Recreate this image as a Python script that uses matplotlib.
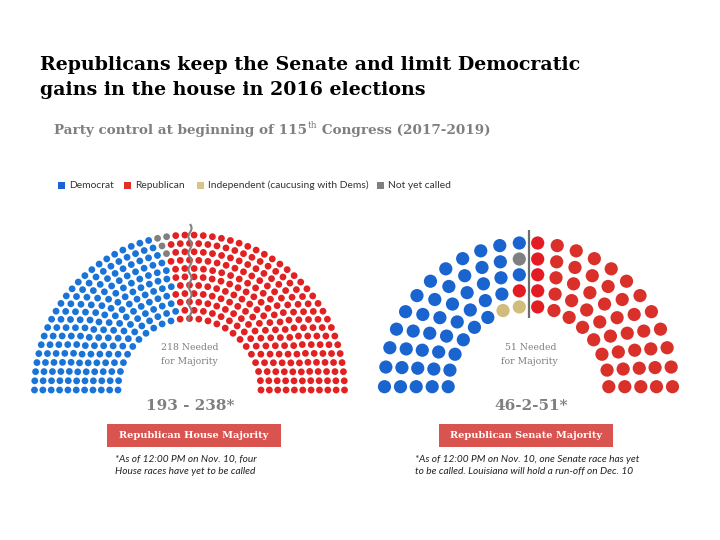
import numpy as np
import matplotlib
matplotlib.use("Agg")
import matplotlib.pyplot as plt
from matplotlib.patches import Circle, Rectangle

# ---------------- data ----------------
title_lines = ["Republicans keep the Senate and limit Democratic",
               "gains in the house in 2016 elections"]
subtitle_parts = ["Party control at beginning of 115", "th", " Congress (2017-2019)"]
legend_labels = ["Democrat", "Republican", "Independent (caucusing with Dems)", "Not yet called"]

house_parties = ["Democrat", "Not yet called", "Republican"]
house_seats = [193, 4, 238]
house_rows = 11
house_pending_rows = [0, 0, 1, 2]   # rows (outer=0) holding the uncalled seats
house_needed = ["218 Needed", "for Majority"]

senate_parties = ["Democrat", "Independent", "Not yet called", "Republican"]
senate_seats = [46, 2, 1, 51]
senate_row_seats = [12, 11, 10, 9, 8]          # seats per half-row, outer -> inner
# seats on the left half next to the aisle that are not Democrat: (row, position from aisle)
senate_aisle_seats = {(1, 0): "Not yet called", (3, 0): "Republican",
                      (4, 0): "Independent", (4, 1): "Independent"}
senate_needed = ["51 Needed", "for Majority"]

house_score = "193 - 238*"
senate_score = "46-2-51*"
house_banner = "Republican House Majority"
senate_banner = "Republican Senate Majority"
house_note = ["*As of 12:00 PM on Nov. 10, four", "House races have yet to be called"]
senate_note = ["*As of 12:00 PM on Nov. 10, one Senate race has yet",
               "to be called. Louisiana will hold a run-off on Dec. 10"]

# ---------------- style ----------------
house_colors = {"Democrat": "#1a74d8", "Not yet called": "#808080", "Republican": "#e22222"}
senate_colors = {"Democrat": "#1a64cf", "Independent": "#d2bc7c",
                 "Not yet called": "#808080", "Republican": "#d9302a"}
senate_aisle_red = "#e31b23"
legend_colors = ["#1a62d6", "#e0302a", "#d9c48b", "#7f7f7f"]
gray_text = "#7f7f7f"
banner_color = "#d9534f"
SERIF = "DejaVu Serif"
SANS = "Lato"

fig = plt.figure(figsize=(7.2, 5.4), dpi=100)
ax = fig.add_axes([0, 0, 1, 1])
ax.set_xlim(0, 720)
ax.set_ylim(540, 0)
ax.set_aspect("equal")
ax.axis("off")

# ---------------- titles ----------------
ax.text(40, 70, title_lines[0], fontsize=13.7, fontweight="bold", family=SERIF,
        color="black", va="baseline", ha="left")
ax.text(40, 95, title_lines[1], fontsize=13.7, fontweight="bold", family=SERIF,
        color="black", va="baseline", ha="left")

renderer = fig.canvas.get_renderer()
t1 = ax.text(54, 134, subtitle_parts[0], fontsize=9.7, fontweight="bold", family=SERIF,
             color=gray_text, va="baseline", ha="left")
bb = t1.get_window_extent(renderer)
t2 = ax.text(bb.x1 + 0.5, 128.5, subtitle_parts[1], fontsize=6.5, family=SERIF,
             color=gray_text, va="baseline", ha="left")
bb2 = t2.get_window_extent(renderer)
ax.text(bb2.x1, 134, subtitle_parts[2], fontsize=9.7, fontweight="bold", family=SERIF,
        color=gray_text, va="baseline", ha="left")

# ---------------- legend ----------------
leg_x = [58, 124, 197, 377]
for lx, lab, col in zip(leg_x, legend_labels, legend_colors):
    ax.add_patch(Rectangle((lx, 181.5), 7, 7, color=col, lw=0))
    ax.text(lx + 11.5, 185, lab, fontsize=7.4, family=SANS, color="#333333",
            va="center", ha="left")

# ---------------- House ----------------
hcx, hcy = 189.5, 390.0
h_rout, h_rin = 155.0, 71.5
h_dot = 3.4
radii = np.linspace(h_rout, h_rin, house_rows)
total = sum(house_seats)
raw = total * radii / radii.sum()
counts = np.floor(raw).astype(int)
rem = total - counts.sum()
order = np.argsort(-(raw - counts))
counts[order[:rem]] += 1

seats = []
for row, (r, n) in enumerate(zip(radii, counts)):
    for a in np.linspace(np.pi, 0, n):
        seats.append((a, r, row))
seats.sort(key=lambda s: (-s[0], -s[1]))

n_left = house_seats[0] + house_seats[1]
seat_party = [house_parties[0]] * n_left + [house_parties[2]] * house_seats[2]
# uncalled seats: the left-group seats nearest the aisle in the given rows
taken = set()
for prow in house_pending_rows:
    cand = [k for k in range(n_left) if seats[k][2] == prow and k not in taken]
    k = max(cand)  # smallest angle in that row within left group
    taken.add(k)
    seat_party[k] = house_parties[1]

for (a, r, row), p in zip(seats, seat_party):
    ax.add_patch(Circle((hcx + r * np.cos(a), hcy - r * np.sin(a)), h_dot,
                        color=house_colors[p], lw=0, zorder=2))

# wavy aisle line
yy = np.linspace(224, 321, 400)
xx = hcx + 0.5 + 1.6 * np.sin((yy - 224) / 8.3 * np.pi)
ax.plot(xx, yy, color="#808080", lw=1.5, solid_capstyle="butt", zorder=6)

ax.text(hcx, 348, house_needed[0], fontsize=6.7, family=SERIF, color=gray_text,
        ha="center", va="center")
ax.text(hcx, 362, house_needed[1], fontsize=6.7, family=SERIF, color=gray_text,
        ha="center", va="center")

# ---------------- Senate ----------------
scx, scy = 528.5, 386.7
s_radii = [144.0, 128.0, 112.3, 96.3, 80.3]
s_gap = 9.2
s_dot = 6.6
for row, (r, n) in enumerate(zip(s_radii, senate_row_seats)):
    a_end = np.arccos(-s_gap / r)
    angs = np.linspace(np.pi, a_end, n)
    for i, a in enumerate(angs):
        j = n - 1 - i  # position from aisle
        xl = scx + r * np.cos(a)
        y = scy - r * np.sin(a)
        party = senate_aisle_seats.get((row, j), senate_parties[0])
        c = senate_aisle_red if party == "Republican" else senate_colors[party]
        ax.add_patch(Circle((xl, y), s_dot, color=c, lw=0))
        xr = 2 * scx - xl
        cr = senate_aisle_red if j == 0 else senate_colors["Republican"]
        ax.add_patch(Circle((xr, y), s_dot, color=cr, lw=0))

ax.plot([scx, scx], [230, 318], color="#6e6e6e", lw=1.6, solid_capstyle="butt", zorder=5)
ax.text(scx + 2, 348, senate_needed[0], fontsize=6.7, family=SERIF, color=gray_text,
        ha="center", va="center")
ax.text(scx + 1, 362, senate_needed[1], fontsize=6.7, family=SERIF, color=gray_text,
        ha="center", va="center")

# ---------------- scores, banners, notes ----------------
ax.text(190, 406, house_score, fontsize=11, fontweight="bold", family=SERIF,
        color=gray_text, ha="center", va="center")
ax.text(531, 406, senate_score, fontsize=11, fontweight="bold", family=SERIF,
        color=gray_text, ha="center", va="center")

for (x0, x1), lab in [((107, 281), house_banner), ((439, 613), senate_banner)]:
    ax.add_patch(Rectangle((x0, 423.5), x1 - x0, 23, color=banner_color, lw=0))
    ax.text((x0 + x1) / 2, 435, lab, fontsize=7.0, fontweight="bold", family=SERIF,
            color="white", ha="center", va="center")

for k, line in enumerate(house_note):
    ax.text(115, 459 + 12.5 * k, line, fontsize=7.3, style="italic", family=SANS,
            color="#222222", ha="left", va="center")
for k, line in enumerate(senate_note):
    ax.text(415, 459 + 12.5 * k, line, fontsize=7.3, style="italic", family=SANS,
            color="#222222", ha="left", va="center")

fig.savefig("out.png", dpi=100, facecolor="white")
